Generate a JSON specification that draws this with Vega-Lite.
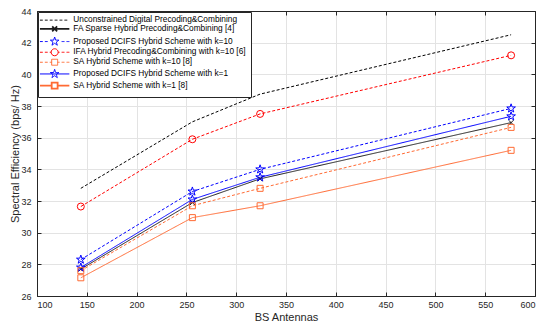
{
  "$schema": "https://vega.github.io/schema/vega-lite/v6.json",
  "width": 498,
  "height": 285,
  "autosize": {"type": "none"},
  "padding": {"left": 37, "top": 11, "right": 8, "bottom": 29},
  "background": "white",
  "config": {
    "font": "Liberation Sans",
    "view": {"stroke": "#262626", "strokeWidth": 1},
    "axis": {"labelColor": "#262626", "titleColor": "#262626", "domainColor": "#262626", "tickColor": "#262626", "labelFontSize": 9, "titleFontSize": 11, "titleFontWeight": "normal", "gridColor": "#e3e3e3", "gridWidth": 1}
  },
  "data": {
    "values": [
      {"series": "Unconstrained Digital Precoding&Combining", "x": 144, "y": 32.8},
      {"series": "Unconstrained Digital Precoding&Combining", "x": 256, "y": 37.0},
      {"series": "Unconstrained Digital Precoding&Combining", "x": 324, "y": 38.75},
      {"series": "Unconstrained Digital Precoding&Combining", "x": 576, "y": 42.5},
      {"series": "FA Sparse Hybrid Precoding&Combining [4]", "x": 144, "y": 27.7},
      {"series": "FA Sparse Hybrid Precoding&Combining [4]", "x": 256, "y": 31.9},
      {"series": "FA Sparse Hybrid Precoding&Combining [4]", "x": 324, "y": 33.4},
      {"series": "FA Sparse Hybrid Precoding&Combining [4]", "x": 576, "y": 36.95},
      {"series": "Proposed DCIFS Hybrid Scheme with k=10", "x": 144, "y": 28.3},
      {"series": "Proposed DCIFS Hybrid Scheme with k=10", "x": 256, "y": 32.6},
      {"series": "Proposed DCIFS Hybrid Scheme with k=10", "x": 324, "y": 34.0},
      {"series": "Proposed DCIFS Hybrid Scheme with k=10", "x": 576, "y": 37.85},
      {"series": "IFA Hybrid Precoding&Combining with k=10 [6]", "x": 144, "y": 31.65},
      {"series": "IFA Hybrid Precoding&Combining with k=10 [6]", "x": 256, "y": 35.9},
      {"series": "IFA Hybrid Precoding&Combining with k=10 [6]", "x": 324, "y": 37.5},
      {"series": "IFA Hybrid Precoding&Combining with k=10 [6]", "x": 576, "y": 41.2},
      {"series": "SA Hybrid Scheme with k=10 [8]", "x": 144, "y": 27.6},
      {"series": "SA Hybrid Scheme with k=10 [8]", "x": 256, "y": 31.7},
      {"series": "SA Hybrid Scheme with k=10 [8]", "x": 324, "y": 32.8},
      {"series": "SA Hybrid Scheme with k=10 [8]", "x": 576, "y": 36.65},
      {"series": "Proposed DCIFS Hybrid Scheme with k=1", "x": 144, "y": 27.8},
      {"series": "Proposed DCIFS Hybrid Scheme with k=1", "x": 256, "y": 32.1},
      {"series": "Proposed DCIFS Hybrid Scheme with k=1", "x": 324, "y": 33.5},
      {"series": "Proposed DCIFS Hybrid Scheme with k=1", "x": 576, "y": 37.35},
      {"series": "SA Hybrid Scheme with k=1 [8]", "x": 144, "y": 27.15},
      {"series": "SA Hybrid Scheme with k=1 [8]", "x": 256, "y": 30.95},
      {"series": "SA Hybrid Scheme with k=1 [8]", "x": 324, "y": 31.7},
      {"series": "SA Hybrid Scheme with k=1 [8]", "x": 576, "y": 35.2}
    ]
  },
  "resolve": {
    "axis": {"x": "independent", "y": "independent"}
  },
  "layer": [
    {
      "mark": {"type": "line", "strokeWidth": 1, "clip": true},
      "encoding": {
        "x": {"field": "x", "type": "quantitative", "scale": {"domain": [100, 600], "nice": false, "zero": false},
              "axis": {"title": "BS Antennas", "values": [100,150,200,250,300,350,400,450,500,550,600], "tickSize": -4, "labelPadding": 8, "titlePadding": 2, "grid": true}},
        "y": {"field": "y", "type": "quantitative", "scale": {"domain": [26, 44], "nice": false, "zero": false},
              "axis": {"title": "Spectral Efficiency (bps/ Hz)", "values": [26,28,30,32,34,36,38,40,42,44], "tickSize": -4, "labelPadding": 10, "titlePadding": 0, "grid": true}},
        "detail": {"field": "series"},
        "color": {"field": "series", "type": "nominal",
          "scale": {
            "domain": ["Unconstrained Digital Precoding&Combining", "FA Sparse Hybrid Precoding&Combining [4]", "Proposed DCIFS Hybrid Scheme with k=10", "IFA Hybrid Precoding&Combining with k=10 [6]", "SA Hybrid Scheme with k=10 [8]", "Proposed DCIFS Hybrid Scheme with k=1", "SA Hybrid Scheme with k=1 [8]"],
            "range": ["#000000", "#1a1a1a", "#0000ff", "#ff0000", "#ff6a33", "#0000ff", "#ff6a33"]
          },
          "legend": {"title": null, "orient": "top-left", "offset": 1, "padding": 4, "rowPadding": -1.3, "labelFontSize": 8.3, "labelColor": "#000000", "labelLimit": 400, "symbolSize": 49, "symbolOffset": 8.5, "labelOffset": 14.5, "strokeColor": "#262626", "fillColor": "#ffffff", "symbolOpacity": 1, "symbolFillColor": "transparent", "symbolDash": [1, 0],
            "symbolStrokeColor": {"expr": "datum.value === 'FA Sparse Hybrid Precoding&Combining [4]' ? '#5a5a5a' : datum.value === 'SA Hybrid Scheme with k=1 [8]' ? '#ff9a70' : scale('color', datum.value)"},
            "symbolStrokeWidth": {"expr": "datum.value === 'FA Sparse Hybrid Precoding&Combining [4]' || datum.value === 'SA Hybrid Scheme with k=1 [8]' ? 1.8 : 1"},
            "symbolType": {"expr": "datum.value === 'Unconstrained Digital Precoding&Combining' ? 'M-4.2,0L-3.4,0M-2.8,0L-2,0M-1.4,0L-0.6,0M0,0L0.8,0M1.4,0L2.2,0M2.8,0L3.6,0' : datum.value === 'FA Sparse Hybrid Precoding&Combining [4]' ? 'M-4.2,0L4.2,0M-0.7,-0.7L0.7,0.7M0.7,-0.7L-0.7,0.7' : datum.value === 'Proposed DCIFS Hybrid Scheme with k=10' ? 'M-4.2,0L-3.4,0M-2.8,0L-2,0M3.4,0L4.2,0M2,0L2.8,0M0,-1.3L0.294,-0.405L1.236,-0.402L0.476,0.155L0.764,1.052L0,0.5L-0.764,1.052L-0.476,0.155L-1.236,-0.402L-0.294,-0.405Z' : datum.value === 'IFA Hybrid Precoding&Combining with k=10 [6]' ? 'M-4.2,0L-3.4,0M-2.8,0L-2,0M3.4,0L4.2,0M2,0L2.8,0M-1,0L-1.4,0M1,0L1.4,0M1,0A1,1,0,1,1,-1,0A1,1,0,1,1,1,0Z' : datum.value === 'SA Hybrid Scheme with k=10 [8]' ? 'M-4.2,0L-3.4,0M-2.8,0L-2,0M3.4,0L4.2,0M2,0L2.8,0M-0.85,0L-1.4,0M0.85,0L1.4,0M-0.85,-0.85L0.85,-0.85L0.85,0.85L-0.85,0.85Z' : datum.value === 'Proposed DCIFS Hybrid Scheme with k=1' ? 'M-4.2,0L4.2,0M0,-1.3L0.294,-0.405L1.236,-0.402L0.476,0.155L0.764,1.052L0,0.5L-0.764,1.052L-0.476,0.155L-1.236,-0.402L-0.294,-0.405Z' : 'M-4.2,0L-0.85,0M0.85,0L4.2,0M-0.85,-0.85L0.85,-0.85L0.85,0.85L-0.85,0.85Z'"}
          }},
        "strokeDash": {"field": "series", "type": "nominal", "legend": null,
          "scale": {
            "domain": ["SA Hybrid Scheme with k=1 [8]", "Proposed DCIFS Hybrid Scheme with k=1", "SA Hybrid Scheme with k=10 [8]", "IFA Hybrid Precoding&Combining with k=10 [6]", "Proposed DCIFS Hybrid Scheme with k=10", "FA Sparse Hybrid Precoding&Combining [4]", "Unconstrained Digital Precoding&Combining"],
            "range": [[1, 0], [1, 0], [3, 2], [3, 2], [3, 2], [1, 0], [3, 2]]
          }}
      }
    },
    {
      "transform": [{"filter": {"field": "series", "oneOf": ["FA Sparse Hybrid Precoding&Combining [4]"]}}],
      "mark": {"type": "point", "filled": false, "strokeWidth": 1, "size": 49, "opacity": 1, "shape": "M-0.7,-0.7L0.7,0.7M0.7,-0.7L-0.7,0.7"},
      "encoding": {
        "x": {"field": "x", "type": "quantitative", "axis": null},
        "y": {"field": "y", "type": "quantitative", "axis": null},
        "color": {"field": "series", "type": "nominal", "legend": null}
      }
    },
    {
      "transform": [{"filter": {"field": "series", "oneOf": ["Proposed DCIFS Hybrid Scheme with k=10", "Proposed DCIFS Hybrid Scheme with k=1"]}}],
      "mark": {"type": "point", "filled": false, "strokeWidth": 1, "size": 49, "opacity": 1, "shape": "M0,-1.3L0.294,-0.405L1.236,-0.402L0.476,0.155L0.764,1.052L0,0.5L-0.764,1.052L-0.476,0.155L-1.236,-0.402L-0.294,-0.405Z"},
      "encoding": {
        "x": {"field": "x", "type": "quantitative", "axis": null},
        "y": {"field": "y", "type": "quantitative", "axis": null},
        "color": {"field": "series", "type": "nominal", "legend": null}
      }
    },
    {
      "transform": [{"filter": {"field": "series", "oneOf": ["IFA Hybrid Precoding&Combining with k=10 [6]"]}}],
      "mark": {"type": "point", "filled": false, "strokeWidth": 1, "size": 49, "opacity": 1, "shape": "circle"},
      "encoding": {
        "x": {"field": "x", "type": "quantitative", "axis": null},
        "y": {"field": "y", "type": "quantitative", "axis": null},
        "color": {"field": "series", "type": "nominal", "legend": null}
      }
    },
    {
      "transform": [{"filter": {"field": "series", "oneOf": ["SA Hybrid Scheme with k=10 [8]", "SA Hybrid Scheme with k=1 [8]"]}}],
      "mark": {"type": "point", "filled": false, "strokeWidth": 1, "size": 36, "opacity": 1, "shape": "square"},
      "encoding": {
        "x": {"field": "x", "type": "quantitative", "axis": null},
        "y": {"field": "y", "type": "quantitative", "axis": null},
        "color": {"field": "series", "type": "nominal", "legend": null}
      }
    },
    {
      "transform": [{"filter": "false"}],
      "mark": {"type": "point", "filled": false, "strokeWidth": 1, "size": 49},
      "encoding": {
        "x": {"field": "x", "type": "quantitative",
              "axis": {"orient": "top", "title": null, "labels": false, "grid": false, "tickSize": -4, "values": [100,150,200,250,300,350,400,450,500,550,600]}},
        "y": {"field": "y", "type": "quantitative",
              "axis": {"orient": "right", "title": null, "labels": false, "grid": false, "tickSize": -4, "values": [26,28,30,32,34,36,38,40,42,44]}}
      }
    }
  ]
}
